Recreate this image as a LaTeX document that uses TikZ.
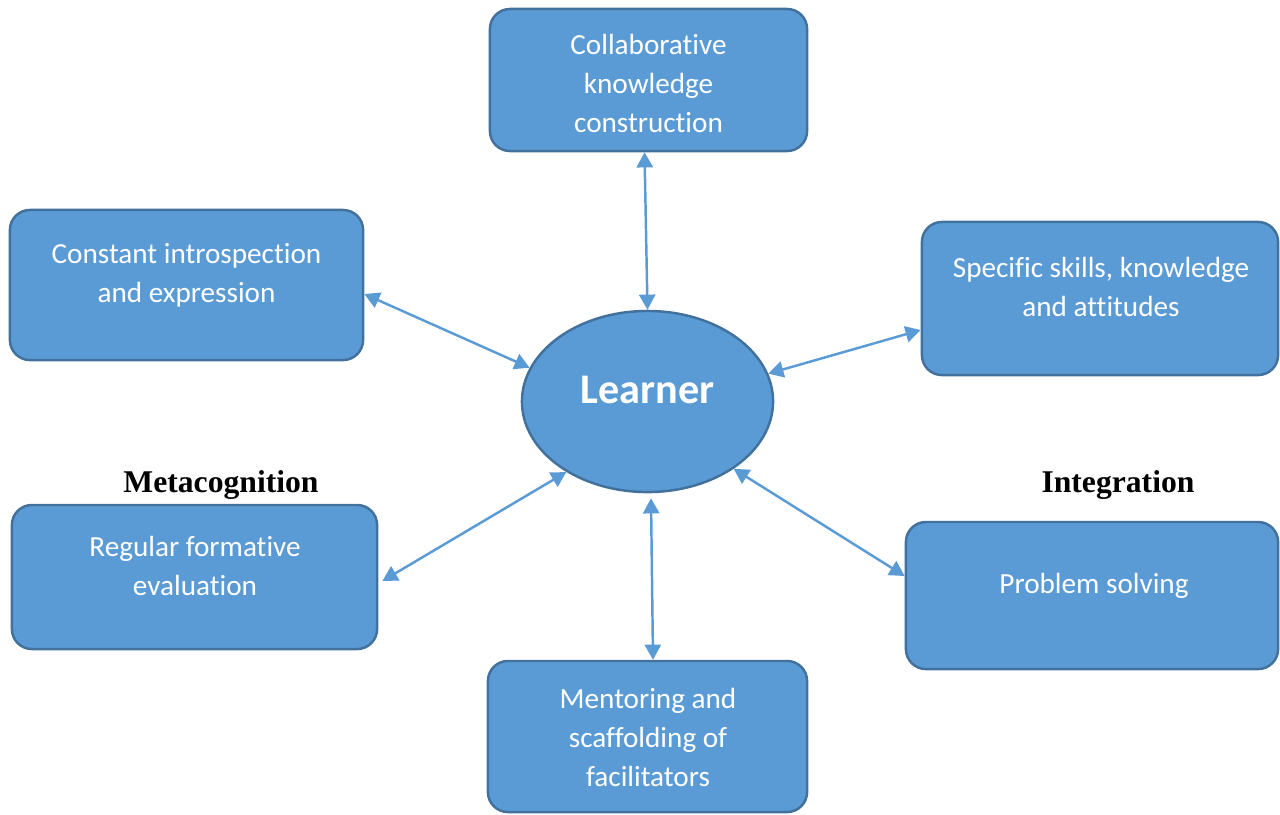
\documentclass[tikz,border=0pt]{standalone}
\usepackage{fontspec}
\setmainfont{Carlito}[RawFeature={-liga}]
\newfontfamily\labelfont{Liberation Serif}
\usetikzlibrary{arrows.meta,shapes.geometric}
\definecolor{boxfill}{HTML}{5B9BD5}
\definecolor{boxline}{HTML}{41719C}

\begin{document}
\begin{tikzpicture}[x=0.01cm,y=-0.01cm,
  idea/.style={rectangle, draw=boxline, fill=boxfill, line width=0.7pt,
    rounded corners=0.2cm, inner sep=0pt},
  ideatext/.style={anchor=north, inner sep=0pt, align=center, text=white,
    font=\fontsize{8.3}{11.1}\selectfont},
  link/.style={draw=boxfill, line width=0.7pt,
    {Triangle[length=4.3pt,width=4.6pt]}-{Triangle[length=4.3pt,width=4.6pt]}},
  side/.style={font=\labelfont\bfseries\fontsize{9}{11}\selectfont,
    inner sep=0pt, anchor=base}]

\useasboundingbox (0,0) rectangle (1280,814);

% outer idea boxes
\node[idea, minimum width=3.17cm, minimum height=1.42cm] (collab) at (648.5,80) {};
\node[idea, minimum width=3.53cm, minimum height=1.50cm] (intro) at (186.5,285) {};
\node[idea, minimum width=3.56cm, minimum height=1.53cm] (skills) at (1100,298.5) {};
\node[idea, minimum width=3.65cm, minimum height=1.44cm] (regular) at (194.5,577) {};
\node[idea, minimum width=3.72cm, minimum height=1.47cm] (problem) at (1092,595.5) {};
\node[idea, minimum width=3.19cm, minimum height=1.51cm] (mentor) at (647.5,736.5) {};

% box captions, set from the top of each box
\node[ideatext] (collabtext) at (648.5,26.7)
  {\strut Collaborative\\\strut knowledge\\\strut construction};
\node[ideatext] (introtext) at (186.5,235.7)
  {\strut Constant introspection\\\strut and expression};
\node[ideatext] (skillstext) at (1101,249.7)
  {\strut Specific skills, knowledge\\\strut and attitudes};
\node[ideatext] (regulartext) at (195,528.7)
  {\strut Regular formative\\\strut evaluation};
\node[ideatext] (problemtext) at (1094,565.7)
  {\strut Problem solving};
\node[ideatext] (mentortext) at (648,680.7)
  {\strut Mentoring and\\\strut scaffolding of\\\strut facilitators};

% central ellipse
\node[ellipse, draw=boxline, fill=boxfill, line width=0.7pt,
  minimum width=2.51cm, minimum height=1.81cm, inner sep=0pt,
  text=white, font=\bfseries\fontsize{12}{14}\selectfont,
  text height=5pt, text depth=4.15pt] (learner) at (647.5,401.5) {Learner};

% two-way links to the learner
\draw[link] ([xshift=-0.04cm]collab.south) -- (learner.north);
\draw[link] ([yshift=-0.09cm]intro.east) -- (learner.164);
\draw[link] ([yshift=-0.315cm]skills.west) -- (learner.13);
\draw[link] ([xshift=0.04cm,yshift=-0.04cm]regular.east) -- (learner.221);
\draw[link] ([xshift=0.035cm,yshift=-0.05cm]learner.south) -- ([xshift=0.055cm]mentor.north);
\draw[link] ([yshift=0.195cm]problem.west) -- (learner.322);

% side headings
\node[side] (meta) at (221,492) {Metacognition};
\node[side] (integ) at (1118,492) {Integration};
\end{tikzpicture}
\end{document}
